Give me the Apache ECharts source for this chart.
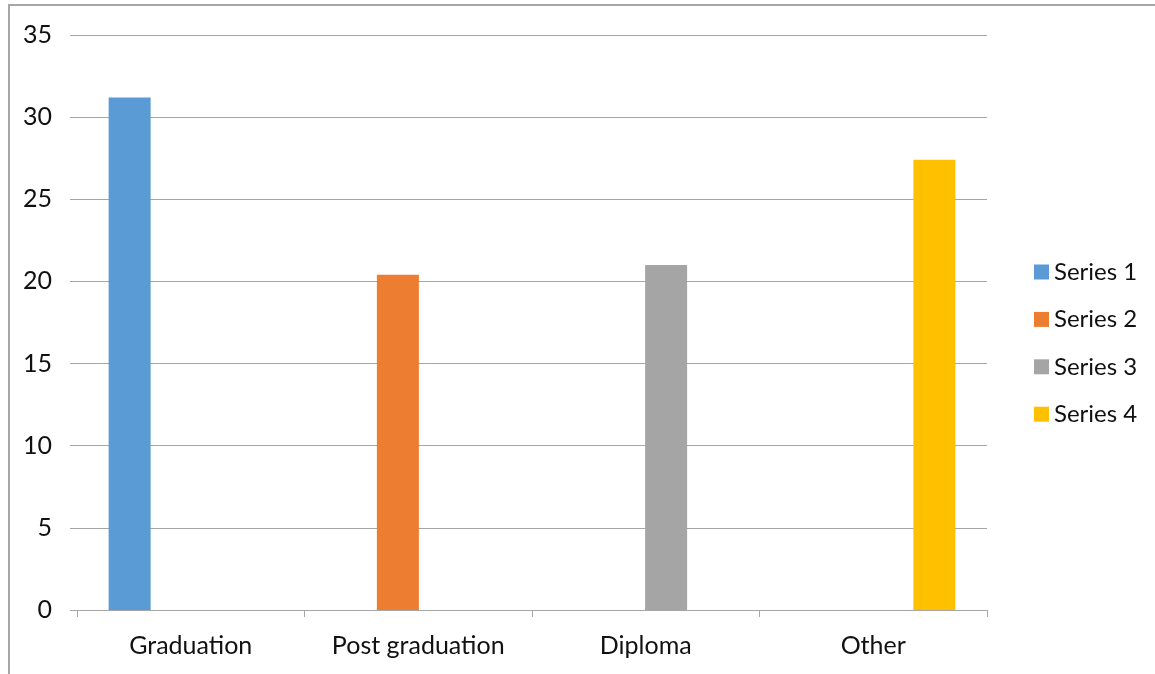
<!DOCTYPE html>
<html>
<head>
<meta charset="utf-8">
<script src="https://cdn.jsdelivr.net/npm/echarts@6/dist/echarts.min.js"></script>
<style>
  html, body { margin: 0; padding: 0; background: #fff; }
  #chart { width: 1155px; height: 674px; }
</style>
</head>
<body>
<div id="chart"></div>
<script>
// Education level survey: each series holds a value only in its own category
const categories = ['Graduation', 'Post graduation', 'Diploma', 'Other'];
const seriesNames = ['Series 1', 'Series 2', 'Series 3', 'Series 4'];
const series1 = [31.2, 0, 0, 0];
const series2 = [0, 20.4, 0, 0];
const series3 = [0, 0, 21.0, 0];
const series4 = [0, 0, 0, 27.4];
const seriesColors = ['#5B9BD5', '#ED7D31', '#A5A5A5', '#FFC000'];
const yMin = 0, yMax = 35, yStep = 5;

const font = 'Lato, "Open Sans", sans-serif';
const values = [series1, series2, series3, series4];

const chart = echarts.init(document.getElementById('chart'), null, { renderer: 'canvas' });
chart.setOption({
  animation: false,
  backgroundColor: '#fff',
  textStyle: { fontFamily: font },
  graphic: [{
    type: 'rect',
    shape: { x: 9, y: 5, width: 1160, height: 680 },
    style: { fill: 'none', stroke: '#a6a6a6', lineWidth: 2 },
    silent: true
  }],
  grid: { left: 77, right: 168, top: 35, bottom: 64, containLabel: false },
  legend: {
    orient: 'vertical',
    left: 1029,
    top: 255,
    itemWidth: 15,
    itemHeight: 15,
    itemGap: 23.4,
    icon: 'rect',
    data: seriesNames,
    textStyle: { fontFamily: font, fontSize: 24, color: '#111' }
  },
  xAxis: {
    type: 'category',
    data: categories,
    axisLine: { lineStyle: { color: '#a6a6a6', width: 1 } },
    axisTick: { show: true, length: 7, lineStyle: { color: '#a6a6a6' } },
    axisLabel: { fontFamily: font, fontSize: 25, color: '#111', margin: 23 },
    splitLine: { show: false }
  },
  yAxis: {
    type: 'value',
    min: yMin,
    max: yMax,
    interval: yStep,
    axisLine: { show: false },
    axisTick: { show: true, length: 7, lineStyle: { color: '#a6a6a6' } },
    axisLabel: { fontFamily: font, fontSize: 25, color: '#111', margin: 25 },
    splitLine: { show: true, lineStyle: { color: '#a6a6a6', width: 1 } }
  },
  series: seriesNames.map((name, i) => ({
    name: name,
    type: 'bar',
    data: values[i],
    barWidth: 42,
    barGap: '-3%',
    itemStyle: { color: seriesColors[i] }
  }))
});
</script>
</body>
</html>
